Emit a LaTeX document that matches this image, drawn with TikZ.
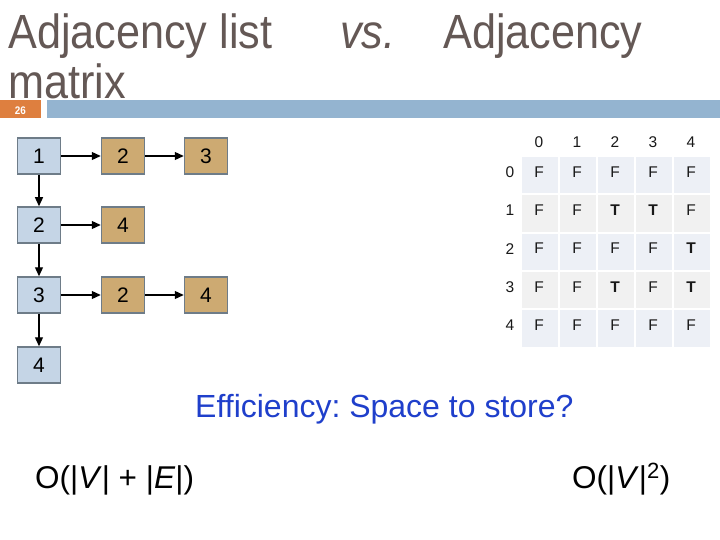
\documentclass[tikz,border=0pt]{standalone}
\usepackage{fontspec}
\setmainfont{Liberation Sans}
\newfontfamily\titlefont[FakeStretch=0.9]{Liberation Sans}
\usetikzlibrary{arrows.meta}
\definecolor{titlecol}{RGB}{100,88,85}
\definecolor{barorange}{RGB}{222,127,63}
\definecolor{barblue}{RGB}{148,180,208}
\definecolor{listblue}{RGB}{197,213,230}
\definecolor{listtan}{RGB}{205,170,114}
\definecolor{listedge}{RGB}{110,124,136}
\definecolor{cellA}{RGB}{237,240,246}
\definecolor{cellB}{RGB}{241,241,241}
\definecolor{effblue}{RGB}{31,63,203}
\frenchspacing
\tikzset{
  titletext/.style={anchor=base west, inner sep=0, text=titlecol, font=\titlefont\fontsize{48}{48}\selectfont},
  headbox/.style={draw=listedge, line width=1.5pt, fill=listblue, minimum width=43pt, minimum height=36pt, inner sep=0, font=\fontsize{21}{21}\selectfont},
  tailbox/.style={headbox, fill=listtan},
  link/.style={-{Triangle[length=9pt,width=8pt]}, line width=1.3pt, black},
  mtext/.style={inner sep=0, font=\fontsize{15.5}{15.5}\selectfont, text={rgb,255:red,25;green,25;blue,25}},
  btext/.style={anchor=base west, inner sep=0, font=\fontsize{31.5}{31.5}\selectfont}
}
\begin{document}
\begin{tikzpicture}[x=1pt,y=-1pt]
\useasboundingbox (0,0) rectangle (720,540);
% title
\node[titletext] (t1) at (8,49) {Adjacency list};
\node[titletext] (t2) at (340,49) {\itshape vs.};
\node[titletext] (t3) at (443,49) {Adjacency};
\node[titletext] (t4) at (8,98.5) {matrix};
% bar
\fill[barorange] (0,100) rectangle (41,118);
\node[inner sep=0, text=white, font=\titlefont\bfseries\fontsize{11}{11}\selectfont] (pg) at (20.5,111) {26};
\fill[barblue] (47,100) rectangle (720,118);
% adjacency list
\node[headbox] (a1) at (39,156) {1};
\node[headbox] (a2) at (39,225) {2};
\node[headbox] (a3) at (39,295) {3};
\node[headbox] (a4) at (39,365) {4};
\node[tailbox] (b12) at (123,156) {2};
\node[tailbox] (b13) at (206,156) {3};
\node[tailbox] (b24) at (123,225) {4};
\node[tailbox] (b32) at (123,295) {2};
\node[tailbox] (b34) at (206,295) {4};
\draw[link] (a1) -- (a2);
\draw[link] (a2) -- (a3);
\draw[link] (a3) -- (a4);
\draw[link] (a1) -- (b12);
\draw[link] (b12) -- (b13);
\draw[link] (a2) -- (b24);
\draw[link] (a3) -- (b32);
\draw[link] (b32) -- (b34);
% adjacency matrix
\foreach \r in {0,...,4}{
  \pgfmathsetmacro{\ytop}{157+38.3*\r}
  \pgfmathtruncatemacro{\rpar}{mod(\r,2)}
  \foreach \c in {0,...,4}{
    \pgfmathsetmacro{\xl}{522+38*\c}
    \ifnum\rpar=0
      \fill[cellA] (\xl,\ytop) rectangle ++(36,36.5);
    \else
      \fill[cellB] (\xl,\ytop) rectangle ++(36,36.5);
    \fi
  }
}
\foreach \c in {0,...,4}{
  \node[mtext] (h\c) at (539+38*\c,142) {\c};
  \node[mtext] (r\c) at (510,172+38.3*\c) {\c};
}
\foreach \r/\row in {0/{F,F,F,F,F},1/{F,F,T,T,F},2/{F,F,F,F,T},3/{F,F,T,F,T},4/{F,F,F,F,F}}{
  \foreach \v [count=\c from 0] in \row {
    \node[mtext] (m\r\c) at (539+38*\c,172+38.3*\r) {\if T\v\bfseries\fi\v};
  }
}
% bottom texts
\node[btext, text=effblue, font=\fontsize{32}{32}\selectfont] (eff) at (195,417) {Efficiency: Space to store?};
\node[btext] (ol) at (35,488) {O(|\textit{V}| + |\textit{E}|)};
\node[btext] (om) at (572,488) {O(|\textit{V}|\textsuperscript{2})};
\end{tikzpicture}
\end{document}
